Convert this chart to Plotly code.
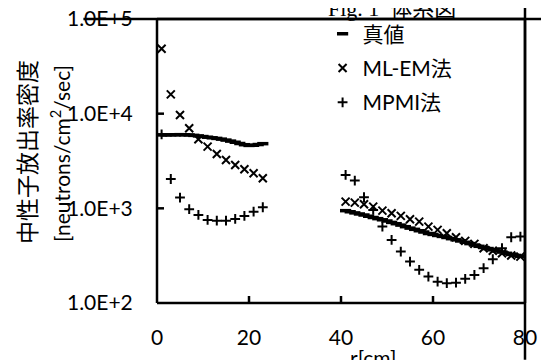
import plotly.graph_objects as go

# ---- data ----
r_true_left = list(range(1, 24))
true_left = [5960, 5970, 5980, 5990, 6000, 5990, 5960, 5900, 5820, 5730, 5640, 5560,
             5480, 5380, 5260, 5130, 4990, 4840, 4700, 4620, 4640, 4720, 4820]
r_true_right = list(range(41, 80))
true_right = [945, 920, 895, 872, 850, 825, 800, 778, 757, 735, 710, 688, 665, 640,
              618, 600, 580, 562, 542, 530, 517, 505, 492, 478, 465, 452, 438, 424,
              410, 397, 386, 376, 365, 355, 345, 335, 326, 318, 311]

r_pts = list(range(1, 24, 2)) + list(range(41, 80, 2))
mlem = [48600, 16000, 9700, 7000, 5370, 4490, 3750, 3240, 2870, 2590, 2350, 2080,
        1178, 1148, 1104, 1042, 946, 888, 832, 767, 724, 641, 592, 546, 495, 453,
        421, 379, 357, 335, 317, 309]
mpmi = [6050, 2040, 1300, 980, 851, 754, 741, 741, 773, 832, 923, 1027,
        2254, 1963, 1309, 962, 641, 464, 349, 274, 224, 190, 168, 162, 164, 180,
        198, 233, 290, 379, 495, 503]

y_tickvals = [100, 1000, 10000, 100000]
y_ticktext = ["1.0E+2", "1.0E+3", "1.0E+4", "1.0E+5"]
x_tickvals = [0, 20, 40, 60, 80]

names = ["真値", "ML-EM法", "MPMI法"]

FONT = "Lato, Noto Sans CJK JP, sans-serif"
X_MIN, X_MAX = x_tickvals[0], x_tickvals[-1]
Y_MIN, Y_MAX = y_tickvals[0], y_tickvals[-1]

# frame geometry in pixels: data box 368x284, padded by 2 px on each side so the
# frame line is drawn fully inside the clipped plot area
BOX_W, BOX_H, PAD = 368, 284, 2
x_per_px = (X_MAX - X_MIN) / BOX_W
dec_per_px = 3 / BOX_H
x_range = [X_MIN - PAD * x_per_px, X_MAX + PAD * x_per_px]
y_range = [2 - PAD * dec_per_px, 5 + PAD * dec_per_px]
TICK_PX = 7
x_tick_len = TICK_PX * x_per_px
y_tick_fac = 10 ** (TICK_PX * dec_per_px)

fig = go.Figure()

r_true = r_true_left + [None] + r_true_right
v_true = true_left + [None] + true_right
fig.add_trace(go.Scatter(
    x=r_true, y=v_true, mode="markers", name=names[0], legendgroup="a",
    marker=dict(symbol="line-ew", size=8, color="black",
                line=dict(color="black", width=3.5)),
))
fig.add_trace(go.Scatter(
    x=r_pts, y=mlem, mode="markers", name=names[1], legendgroup="b",
    marker=dict(symbol="x-thin", size=8, color="black",
                line=dict(color="black", width=2)),
))
fig.add_trace(go.Scatter(
    x=r_pts, y=mpmi, mode="markers", name=names[2], legendgroup="c",
    marker=dict(symbol="cross-thin", size=7, color="black",
                line=dict(color="black", width=2)),
))

# plot frame: one trace per edge of the data box
edges = [
    ([X_MIN, X_MAX], [Y_MIN, Y_MIN]),
    ([X_MAX, X_MAX], [Y_MIN, Y_MAX]),
    ([X_MIN, X_MAX], [Y_MAX, Y_MAX]),
    ([X_MIN, X_MIN], [Y_MIN, Y_MAX]),
]
for ex, ey in edges:
    fig.add_trace(go.Scatter(
        x=ex, y=ey, mode="lines", line=dict(color="black", width=2.5, simplify=False),
        showlegend=False, hoverinfo="skip",
    ))

# top and right edges also drawn as long line markers spanning the data box
x_mid = (X_MIN + X_MAX) / 2
y_mid = (Y_MIN * Y_MAX) ** 0.5
fig.add_trace(go.Scatter(
    x=[x_mid], y=[Y_MAX], mode="markers",
    marker=dict(symbol="line-ew", size=BOX_W, color="black",
                line=dict(color="black", width=2.5)),
    cliponaxis=False, showlegend=False, hoverinfo="skip",
))
fig.add_trace(go.Scatter(
    x=[X_MAX], y=[y_mid], mode="markers",
    marker=dict(symbol="line-ns", size=BOX_H, color="black",
                line=dict(color="black", width=2.5)),
    cliponaxis=False, showlegend=False, hoverinfo="skip",
))

# inside tick marks, one trace each
for v in x_tickvals[1:-1]:
    fig.add_trace(go.Scatter(
        x=[v, v], y=[Y_MIN, Y_MIN * y_tick_fac], mode="lines",
        line=dict(color="black", width=2.5, simplify=False),
        showlegend=False, hoverinfo="skip",
    ))
for v in y_tickvals[1:-1]:
    fig.add_trace(go.Scatter(
        x=[X_MIN, X_MIN + x_tick_len], y=[v, v], mode="lines",
        line=dict(color="black", width=2.5, simplify=False),
        showlegend=False, hoverinfo="skip",
    ))

fig.update_layout(
    width=541, height=352,
    margin=dict(l=147, r=22, t=9, b=55, autoexpand=False),
    paper_bgcolor="white", plot_bgcolor="white",
    font=dict(family=FONT, size=20, color="black"),
    showlegend=True,
    legend=dict(x=0.4505, y=1.012, xanchor="left", yanchor="top",
                bgcolor="rgba(0,0,0,0)", borderwidth=0,
                font=dict(family=FONT, size=21, color="black"),
                itemwidth=30, tracegroupgap=4),
    xaxis=dict(range=x_range, tickvals=x_tickvals, ticks="outside", ticklen=14,
               tickcolor="rgba(0,0,0,0)", showline=False, showgrid=False,
               zeroline=False, ticklabeloverflow="allow",
               tickfont=dict(family=FONT, size=21)),
    yaxis=dict(type="log", range=y_range, tickvals=y_tickvals, ticktext=y_ticktext,
               ticks="outside", ticklen=17, tickcolor="rgba(0,0,0,0)",
               showline=False, showgrid=False, zeroline=False,
               ticklabeloverflow="allow", tickfont=dict(family=FONT, size=21)),
    annotations=[
        dict(text="中性子放出率密度", xref="paper", yref="paper", x=-0.344, y=0.531,
             xanchor="center", yanchor="middle", textangle=-90, showarrow=False,
             font=dict(family=FONT, size=23)),
        dict(text="[neutrons/cm<sup>2</sup>/sec]", xref="paper", yref="paper",
             x=-0.2554, y=0.528, xanchor="center", yanchor="middle", textangle=-90,
             showarrow=False, font=dict(family=FONT, size=21)),
        dict(text="r[cm]", xref="paper", yref="paper", x=0.586, y=-0.1806,
             xanchor="center", yanchor="middle", showarrow=False,
             font=dict(family=FONT, size=21)),
        dict(text="Fig. 1  体系図", xref="paper", yref="paper", x=0.637, y=1.031,
             xanchor="center", yanchor="middle", showarrow=False,
             font=dict(family="Liberation Serif, Noto Sans CJK JP, serif", size=22)),
    ],
)

fig.write_html("out.html")
